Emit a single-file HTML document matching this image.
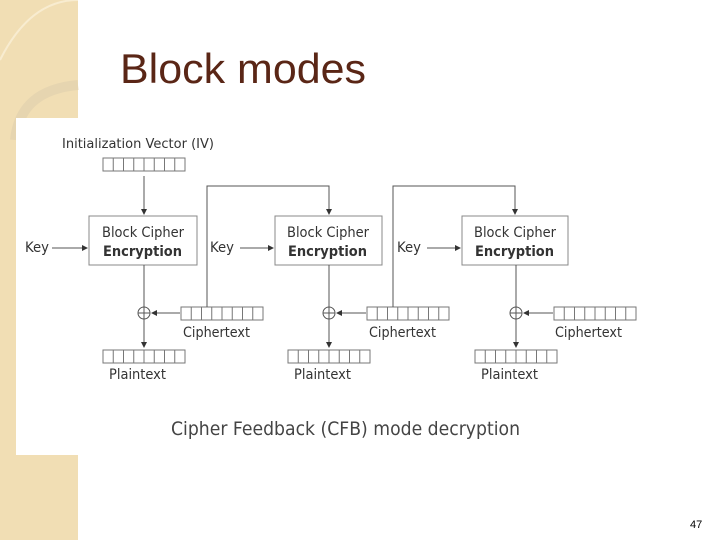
<!DOCTYPE html>
<html><head><meta charset="utf-8"><style>
html,body{margin:0;padding:0;width:720px;height:540px;overflow:hidden;background:#fff}
svg{display:block}
text{font-family:"DejaVu Sans","Liberation Sans",sans-serif;fill:#333}
</style></head><body>
<svg width="720" height="540" viewBox="0 0 720 540" xmlns="http://www.w3.org/2000/svg">
<defs>
<marker id="a" markerWidth="6" markerHeight="6" refX="5" refY="3" orient="auto" markerUnits="userSpaceOnUse"><path d="M0,0 L6,3 L0,6 z" fill="#333"/></marker>
</defs>
<rect x="0" y="0" width="78" height="540" fill="#f1deb4"/>
<path d="M0,60 Q30,0 78,0" fill="none" stroke="#f8ecd0" stroke-width="2"/>
<path d="M15,140 Q20,90 78,85" fill="none" stroke="#e6d5b0" stroke-width="10"/>
<rect x="16" y="118" width="704" height="337" fill="#fff"/>
<text x="120" y="83" style="font-family:'Liberation Sans',sans-serif;fill:#5a2616" font-size="42" textLength="246" lengthAdjust="spacingAndGlyphs">Block modes</text>

<text x="62" y="148" font-size="13" textLength="152" lengthAdjust="spacingAndGlyphs">Initialization Vector (IV)</text>
<g fill="#fff" stroke="#777">
<g id="c">
<rect x="103" y="158" width="82" height="13"/>
<path d="M113.25,158v13M123.5,158v13M133.75,158v13M144,158v13M154.25,158v13M164.5,158v13M174.75,158v13"/>
</g>
<use href="#c" x="78" y="149"/><use href="#c" x="264" y="149"/><use href="#c" x="451" y="149"/>
<use href="#c" x="0" y="192"/><use href="#c" x="185" y="192"/><use href="#c" x="372" y="192"/>
</g>
<g stroke="#555" stroke-width="1" fill="none">
<line x1="144" y1="176" x2="144" y2="214" marker-end="url(#a)"/>
<rect x="89" y="216" width="108" height="49" stroke="#888"/>
<rect x="275" y="216" width="107" height="49" stroke="#888"/>
<rect x="462" y="216" width="106" height="49" stroke="#888"/>
<line x1="52" y1="248" x2="87" y2="248" marker-end="url(#a)"/>
<line x1="240" y1="248" x2="273" y2="248" marker-end="url(#a)"/>
<line x1="427" y1="248" x2="460" y2="248" marker-end="url(#a)"/>
<polyline points="207,307 207,186 329,186 329,214" marker-end="url(#a)"/>
<polyline points="393,307 393,186 515,186 515,214" marker-end="url(#a)"/>
<line x1="144" y1="265" x2="144" y2="347" marker-end="url(#a)"/>
<line x1="329" y1="265" x2="329" y2="347" marker-end="url(#a)"/>
<line x1="516" y1="265" x2="516" y2="347" marker-end="url(#a)"/>
<circle cx="144" cy="313" r="6"/><circle cx="329" cy="313" r="6"/><circle cx="516" cy="313" r="6"/>
<line x1="138" y1="313" x2="150" y2="313"/><line x1="323" y1="313" x2="335" y2="313"/><line x1="510" y1="313" x2="522" y2="313"/>
<line x1="180" y1="313" x2="152" y2="313" marker-end="url(#a)"/>
<line x1="366" y1="313" x2="337" y2="313" marker-end="url(#a)"/>
<line x1="553" y1="313" x2="524" y2="313" marker-end="url(#a)"/>
</g>
<g font-size="14" lengthAdjust="spacingAndGlyphs">
<text x="102" y="237" textLength="82" lengthAdjust="spacingAndGlyphs">Block Cipher</text><text x="103" y="256" font-weight="bold" textLength="79" lengthAdjust="spacingAndGlyphs">Encryption</text>
<text x="287" y="237" textLength="82" lengthAdjust="spacingAndGlyphs">Block Cipher</text><text x="288" y="256" font-weight="bold" textLength="79" lengthAdjust="spacingAndGlyphs">Encryption</text>
<text x="474" y="237" textLength="82" lengthAdjust="spacingAndGlyphs">Block Cipher</text><text x="475" y="256" font-weight="bold" textLength="79" lengthAdjust="spacingAndGlyphs">Encryption</text>
</g>
<g font-size="14">
<text x="25" y="252" textLength="24" lengthAdjust="spacingAndGlyphs">Key</text><text x="210" y="252" textLength="24" lengthAdjust="spacingAndGlyphs">Key</text><text x="397" y="252" textLength="24" lengthAdjust="spacingAndGlyphs">Key</text>
<text x="183" y="337" textLength="67" lengthAdjust="spacingAndGlyphs">Ciphertext</text><text x="369" y="337" textLength="67" lengthAdjust="spacingAndGlyphs">Ciphertext</text><text x="555" y="337" textLength="67" lengthAdjust="spacingAndGlyphs">Ciphertext</text>
<text x="109" y="379" textLength="57" lengthAdjust="spacingAndGlyphs">Plaintext</text><text x="294" y="379" textLength="57" lengthAdjust="spacingAndGlyphs">Plaintext</text><text x="481" y="379" textLength="57" lengthAdjust="spacingAndGlyphs">Plaintext</text>
</g>
<text x="171" y="435" font-size="19" style="fill:#444" textLength="349" lengthAdjust="spacingAndGlyphs">Cipher Feedback (CFB) mode decryption</text>
<text x="690" y="528" font-size="11" style="font-family:'Liberation Sans',sans-serif;fill:#000">47</text>
</svg>
</body></html>
